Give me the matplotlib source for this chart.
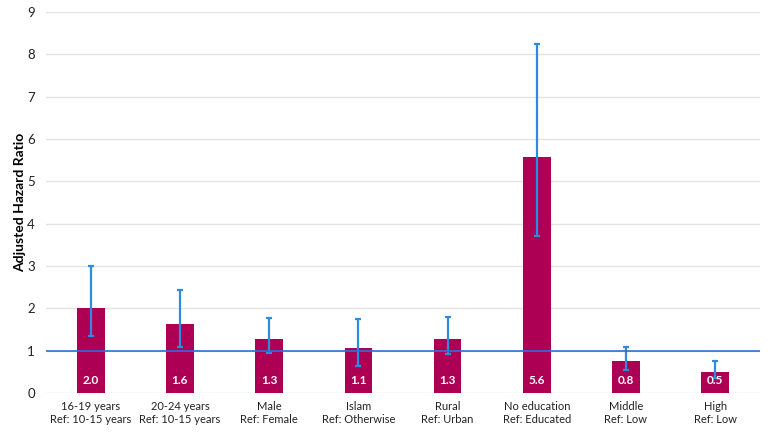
import numpy as np
import matplotlib.pyplot as plt

plt.rcParams['font.family'] = ['Lato', 'DejaVu Sans']

categories = ['16-19 years\nRef: 10-15 years', '20-24 years\nRef: 10-15 years',
              'Male\nRef: Female', 'Islam\nRef: Otherwise', 'Rural\nRef: Urban',
              'No education\nRef: Educated', 'Middle\nRef: Low', 'High\nRef: Low']
hr = [2.02, 1.63, 1.29, 1.06, 1.28, 5.57, 0.77, 0.50]
hr_labels = ['2.0', '1.6', '1.3', '1.1', '1.3', '5.6', '0.8', '0.5']
ci_low = [1.35, 1.09, 0.95, 0.64, 0.92, 3.71, 0.54, 0.35]
ci_high = [3.01, 2.43, 1.77, 1.74, 1.79, 8.24, 1.09, 0.77]

fig = plt.figure(figsize=(7.69, 4.33), dpi=100)
ax = fig.add_axes([0.060, 0.092, 0.928, 0.88])

x = np.arange(len(categories))
hr = np.array(hr)
yerr = [hr - np.array(ci_low), np.array(ci_high) - hr]

ax.bar(x, hr, width=0.31, color='#AD0055', zorder=2)
ax.errorbar(x, hr, yerr=yerr, fmt='none', ecolor='#2E8BE0', elinewidth=1.6,
            capsize=2.5, capthick=1.6, zorder=3)
ax.axhline(1, color='#2F6FD0', lw=1.2, zorder=4)

for xi, lab in zip(x, hr_labels):
    ax.text(xi, 0.3, lab, ha='center', va='center', color='white',
            fontsize=8.5, fontweight='bold', zorder=5)

ax.set_xlim(-0.5, len(categories) - 0.5)
ax.set_ylim(0, 9)
ax.set_yticks(range(0, 10))
ax.yaxis.grid(True, color='#E3E3E3', lw=1)
ax.set_axisbelow(True)
ax.set_xticks(x)
ax.set_xticklabels(categories, fontsize=8)
ax.tick_params(axis='y', length=0, labelsize=9.5, colors='#222222', pad=8)
ax.tick_params(axis='x', length=0, colors='#222222', pad=6)
ax.set_ylabel('Adjusted Hazard Ratio', fontsize=10, fontweight='bold', labelpad=1)
for s in ax.spines.values():
    s.set_visible(False)

plt.savefig('out.png', dpi=100)
